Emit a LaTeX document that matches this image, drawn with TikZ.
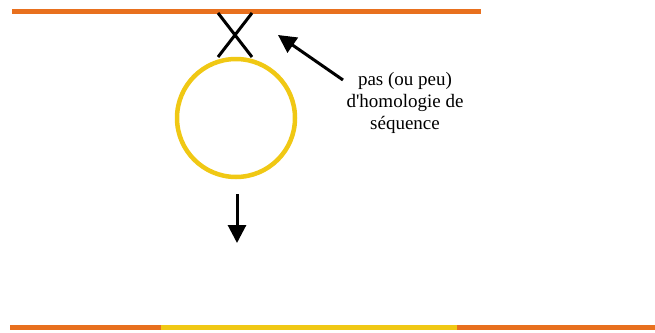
\documentclass[tikz,border=0pt]{standalone}
\usepackage{fontspec}
\setmainfont{Liberation Serif}
\newfontfamily\labelfont{Liberation Serif}
\usetikzlibrary{arrows.meta}
\definecolor{chrorange}{HTML}{E8701E}
\definecolor{chryellow}{HTML}{F0C814}
\tikzset{
  chrline/.style={line width=5pt},
  crossline/.style={line width=3pt, black},
  pointer/.style={line width=3pt, -{Triangle[length=18pt, width=18pt]}}
}
\begin{document}
\begin{tikzpicture}[x=1pt, y=-1pt]
\useasboundingbox (0,0) rectangle (655,332);
% chromosome on top
\draw[chrline, chrorange] (12,11) -- (481,11);
% circular element
\node[draw=chryellow, line width=4.5pt, circle, minimum size=118pt] (ring) at (236,118) {};
% crossing over
\coordinate (xa) at (218,13);
\coordinate (xb) at (252,57);
\coordinate (xc) at (252,13);
\coordinate (xd) at (218,57);
\draw[crossline] (xa) -- (xb);
\draw[crossline] (xc) -- (xd);
% label
\node[align=center, font=\labelfont\fontsize{19}{22}\selectfont] (label) at (405,103) {pas (ou peu)\\d'homologie de\\séquence};
\coordinate (tail) at (343,80);
\coordinate (tip) at (278,35);
\draw[pointer] (tail) -- (tip);
% integration
\coordinate (down1) at (237,194);
\coordinate (down2) at (237,243);
\draw[pointer] (down1) -- (down2);
% chromosome after insertion
\coordinate (b0) at (10,327);
\coordinate (b1) at (161,327);
\coordinate (b2) at (457,327);
\coordinate (b3) at (655,327);
\draw[chrline, chrorange] (b0) -- (b1);
\draw[chrline, chryellow] (b1) -- (b2);
\draw[chrline, chrorange] (b2) -- (b3);
\end{tikzpicture}
\end{document}
